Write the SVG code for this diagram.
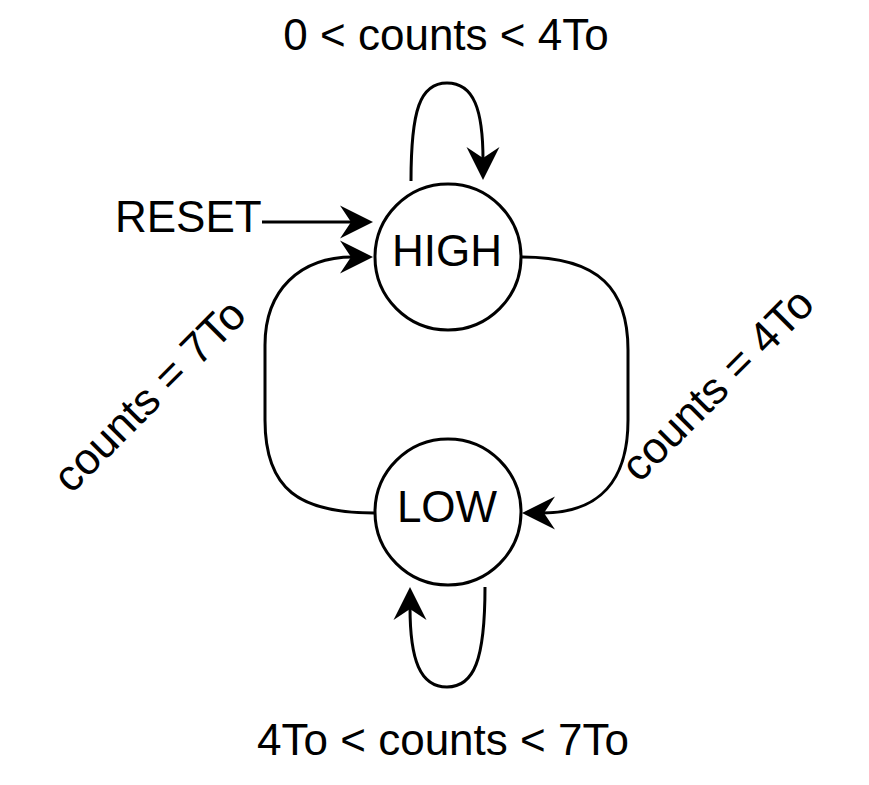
<svg xmlns="http://www.w3.org/2000/svg" width="869" height="785" viewBox="0 0 869 785">
<defs>
<style>
.node{fill:#fff;stroke:#000;stroke-width:3}
.edge{fill:none;stroke:#000;stroke-width:3}
text{font-family:"Liberation Sans",Arial,sans-serif;font-size:44px;fill:#000}
.c{text-anchor:middle}
</style>
<marker id="arr" markerUnits="userSpaceOnUse" viewBox="-34 -18 36 36" markerWidth="36" markerHeight="36" refX="-20" refY="0" orient="auto">
<path d="M0,0 L-33,-16.5 L-22,0 L-33,16.5 Z" fill="#000"/>
</marker>
</defs>
<rect width="869" height="785" fill="#fff"/>
<g id="connectors">
<path class="edge" d="M411,181 C411,110 420,83 447,83 C474,83 483,110 483,160" marker-end="url(#arr)"/>
<path class="edge" d="M262,222 L353,222" marker-end="url(#arr)"/>
<path class="edge" d="M374,513 C300,513 265,490 265,420 L265,345 C265,290 300,257 353,257" marker-end="url(#arr)"/>
<path class="edge" d="M522,257 C600,257 628,290 628,350 L628,420 C628,480 600,513 542,513" marker-end="url(#arr)"/>
<path class="edge" d="M485,587 C485,660 474,687 447,687 C420,687 410,660 410,607" marker-end="url(#arr)"/>
</g>
<g id="labels">
<text class="c" x="446" y="50">0 &lt; counts &lt; 4To</text>
<text class="c" x="443" y="755">4To &lt; counts &lt; 7To</text>
<text x="115" y="232">RESET</text>
<text class="c" transform="translate(728,395) rotate(-45)">counts = 4To</text>
<text class="c" transform="translate(160,406) rotate(-45)">counts = 7To</text>
</g>
<g id="HIGH">
<circle class="node" cx="448" cy="257" r="73"/>
<text class="c" x="447" y="266">HIGH</text>
</g>
<g id="LOW">
<circle class="node" cx="448" cy="512" r="73"/>
<text class="c" x="447" y="522">LOW</text>
</g>
</svg>
